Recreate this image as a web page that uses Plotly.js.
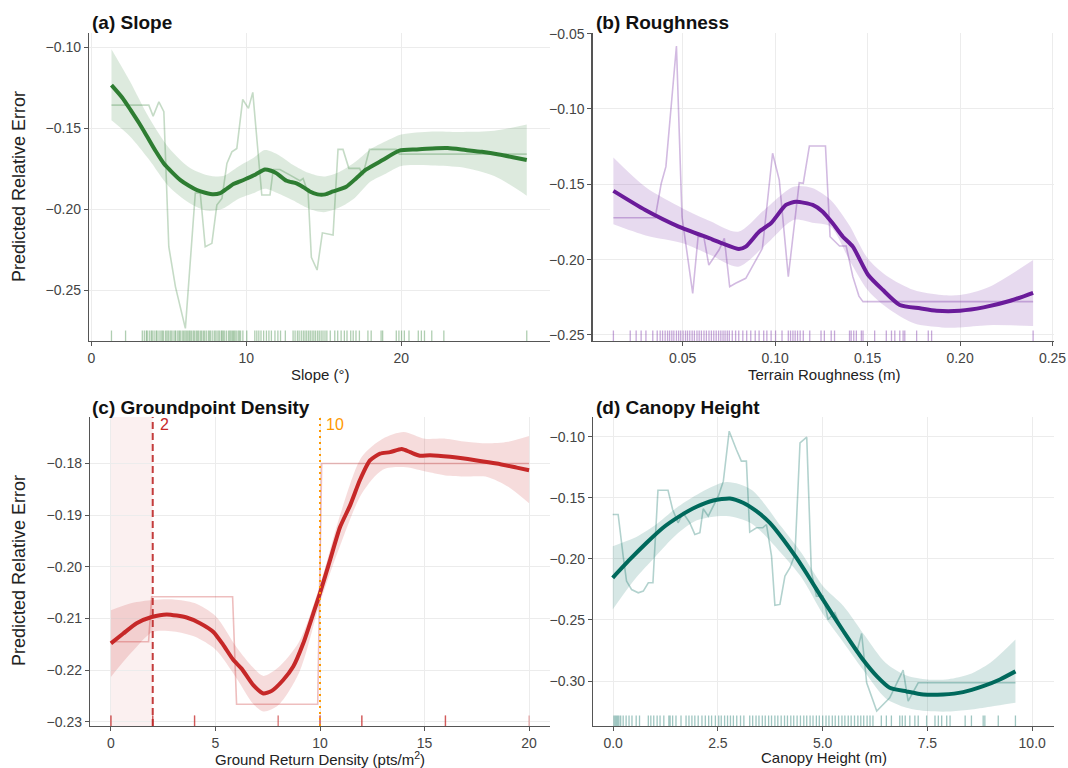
<!DOCTYPE html>
<html>
<head>
<meta charset="utf-8">
<script src="https://cdn.plot.ly/plotly-3.0.1.min.js"></script>
<style>
  html, body { margin: 0; padding: 0; background: #ffffff; }
  #chart { width: 1068px; height: 768px; }
</style>
</head>
<body>
<div id="chart"></div>
<script>
// ---------- (a) Slope ----------
const slopeX = [1.3, 2.0, 2.54, 3.1, 3.61, 4.15, 4.68, 5.2, 5.75, 6.3, 6.82, 7.35, 7.89, 8.32, 8.75, 9.17, 9.6, 10.03, 10.6, 11.2, 11.6, 11.96, 12.6, 13.24, 13.7, 14.1, 14.6, 15.1, 15.6, 16.45, 17.1, 17.74, 18.8, 19.88, 21.0, 22.0, 23.0, 24.16, 25.2, 26.3, 27.2, 28.1];
const slopeY = [-0.1232, -0.131, -0.1387, -0.147, -0.1552, -0.164, -0.1717, -0.177, -0.182, -0.1855, -0.1882, -0.1898, -0.1908, -0.190, -0.1872, -0.1844, -0.1828, -0.181, -0.1785, -0.1754, -0.1762, -0.1778, -0.1824, -0.184, -0.1865, -0.189, -0.1908, -0.1908, -0.189, -0.1861, -0.1808, -0.1754, -0.1696, -0.1638, -0.163, -0.1624, -0.1622, -0.1634, -0.1645, -0.1661, -0.1678, -0.1696];
const slopeBandX = [1.3, 2.5, 3.7, 5.0, 6.3, 7.5, 8.5, 9.5, 10.5, 11.2, 12.0, 13.0, 14.0, 15.0, 16.0, 17.0, 18.0, 19.0, 20.0, 22.0, 24.0, 26.0, 28.1];
const slopeBandHi = [-0.101, -0.121, -0.143, -0.162, -0.174, -0.179, -0.1795, -0.1735, -0.168, -0.1634, -0.166, -0.1725, -0.1775, -0.1798, -0.177, -0.171, -0.163, -0.158, -0.1538, -0.1519, -0.1522, -0.1515, -0.1476];
const slopeBandLo = [-0.145, -0.155, -0.169, -0.186, -0.196, -0.201, -0.1995, -0.1935, -0.190, -0.1874, -0.190, -0.1945, -0.1995, -0.2018, -0.199, -0.193, -0.183, -0.178, -0.1732, -0.1729, -0.1742, -0.1795, -0.1916];
const slopeRawX = [1.3, 3.71, 3.99, 4.36, 4.68, 5.0, 5.43, 6.07, 6.71, 7.03, 7.35, 7.78, 8.1, 8.43, 8.75, 9.07, 9.39, 9.77, 10.14, 10.42, 11.0, 11.53, 11.74, 12.17, 13.03, 13.46, 13.67, 13.99, 14.2, 14.57, 14.91, 15.6, 15.92, 16.24, 16.62, 17.31, 17.52, 17.95, 19.67, 19.88, 28.1];
const slopeRawY = [-0.1356, -0.1356, -0.1424, -0.1336, -0.1397, -0.2232, -0.248, -0.2737, -0.190, -0.190, -0.2232, -0.2211, -0.1974, -0.1933, -0.1717, -0.1645, -0.1624, -0.1321, -0.1376, -0.1277, -0.1912, -0.1912, -0.1754, -0.1754, -0.180, -0.1824, -0.181, -0.190, -0.2298, -0.2376, -0.2146, -0.216, -0.163, -0.163, -0.1747, -0.1747, -0.1789, -0.163, -0.163, -0.1659, -0.1659];
const slopeRug = [1.30, 2.21, 3.29, 3.42, 3.55, 3.61, 3.74, 3.86, 3.93, 4.05, 4.18, 4.24, 4.37, 4.49, 4.58, 4.66, 4.79, 4.88, 4.97, 5.08, 5.16, 5.27, 5.39, 5.45, 5.58, 5.67, 5.74, 5.86, 5.95, 6.04, 6.13, 6.22, 6.31, 6.38, 6.47, 6.58, 6.66, 6.77, 6.85, 6.93, 7.04, 7.12, 7.23, 7.31, 7.42, 7.55, 7.63, 7.71, 7.84, 7.96, 8.05, 8.17, 8.26, 8.38, 8.44, 8.52, 8.61, 8.73, 8.86, 8.94, 9.02, 9.11, 9.18, 9.26, 9.35, 9.47, 9.55, 9.63, 9.78, 10.03, 10.55, 10.68, 10.81, 10.95, 11.12, 11.3, 11.46, 11.62, 11.85, 12.04, 12.21, 12.52, 13.02, 13.15, 13.3, 13.41, 13.55, 13.68, 13.79, 13.9, 14.02, 14.13, 14.25, 14.36, 14.47, 14.6, 14.71, 14.83, 14.95, 15.08, 15.2, 15.42, 15.71, 15.9, 16.12, 16.33, 16.5, 16.74, 16.9, 17.08, 17.3, 17.85, 18.06, 18.7, 18.8, 19.68, 19.85, 20.02, 20.2, 20.5, 21.1, 21.3, 21.5, 21.97, 22.75, 28.1];

// ---------- (b) Roughness ----------
const roughX = [0.0125, 0.0297, 0.0478, 0.0659, 0.0714, 0.0804, 0.0841, 0.0913, 0.0977, 0.1058, 0.1113, 0.1203, 0.1257, 0.1311, 0.1366, 0.142, 0.1502, 0.1583, 0.1674, 0.1783, 0.1873, 0.2, 0.2127, 0.2272, 0.2395];
const roughY = [-0.1544, -0.1671, -0.1781, -0.1865, -0.1892, -0.193, -0.1914, -0.1815, -0.1759, -0.1637, -0.1616, -0.1637, -0.1682, -0.1759, -0.1848, -0.1914, -0.2100, -0.2202, -0.2301, -0.2323, -0.2339, -0.2339, -0.2317, -0.2273, -0.222];
const roughBandX = [0.0125, 0.03, 0.05, 0.065, 0.08, 0.095, 0.11, 0.12, 0.13, 0.14, 0.15, 0.16, 0.175, 0.19, 0.2, 0.215, 0.2395];
const roughBandHi = [-0.1323, -0.152, -0.166, -0.1745, -0.1815, -0.166, -0.1516, -0.1525, -0.1604, -0.177, -0.1991, -0.2105, -0.2202, -0.2235, -0.2235, -0.2185, -0.2003];
const roughBandLo = [-0.1766, -0.184, -0.1892, -0.197, -0.2047, -0.190, -0.1737, -0.1755, -0.1781, -0.200, -0.2202, -0.2315, -0.2423, -0.245, -0.245, -0.2435, -0.2441];
const roughRawX = [0.0125, 0.0351, 0.0384, 0.0409, 0.0466, 0.0496, 0.0554, 0.0583, 0.0614, 0.0641, 0.0696, 0.0725, 0.0754, 0.0786, 0.0841, 0.0931, 0.0986, 0.1022, 0.1071, 0.113, 0.1152, 0.1185, 0.1272, 0.1297, 0.1348, 0.1384, 0.142, 0.1453, 0.1475, 0.2395];
const roughRawY = [-0.1722, -0.1722, -0.1493, -0.1383, -0.0582, -0.1715, -0.2224, -0.1848, -0.1848, -0.2036, -0.1936, -0.1859, -0.218, -0.2157, -0.2124, -0.1925, -0.1294, -0.1471, -0.2113, -0.1489, -0.1493, -0.1246, -0.1246, -0.1848, -0.191, -0.191, -0.2113, -0.2242, -0.2279, -0.2279];
const roughRug = [0.0125, 0.0216, 0.0248, 0.0275, 0.0301, 0.0338, 0.0362, 0.0378, 0.0391, 0.0405, 0.0418, 0.0429, 0.0441, 0.0452, 0.0466, 0.0478, 0.0489, 0.0502, 0.0515, 0.0526, 0.0538, 0.0551, 0.0563, 0.0577, 0.0589, 0.0601, 0.0615, 0.0628, 0.0642, 0.0655, 0.0668, 0.0681, 0.0694, 0.0706, 0.0718, 0.0729, 0.0741, 0.0752, 0.0768, 0.0786, 0.0803, 0.0825, 0.0846, 0.0868, 0.0892, 0.0913, 0.0938, 0.0955, 0.0978, 0.1002, 0.1037, 0.1071, 0.1083, 0.1096, 0.1108, 0.1121, 0.1135, 0.1152, 0.1187, 0.1248, 0.1266, 0.1303, 0.1321, 0.1402, 0.1411, 0.1425, 0.1439, 0.1466, 0.1475, 0.1538, 0.1601, 0.1629, 0.1647, 0.1674, 0.1692, 0.1701, 0.1765, 0.1828, 0.1846, 0.2395];

// ---------- (c) Groundpoint Density ----------
const densX = [0, 0.59, 1.23, 1.95, 2.67, 3.62, 4.26, 4.9, 5.37, 5.85, 6.25, 6.81, 7.29, 7.69, 8.24, 8.72, 9.2, 9.68, 10.0, 10.48, 10.96, 11.44, 11.91, 12.39, 12.87, 13.35, 13.91, 14.31, 14.78, 15.26, 16.22, 17.5, 18.45, 19.41, 20.0];
const densY = [-0.2148, -0.2129, -0.2109, -0.2097, -0.2092, -0.2098, -0.2109, -0.2126, -0.2151, -0.218, -0.2197, -0.2229, -0.2245, -0.224, -0.2219, -0.2193, -0.2148, -0.209, -0.2051, -0.1987, -0.1923, -0.1881, -0.1832, -0.1794, -0.1781, -0.1778, -0.1772, -0.1778, -0.1785, -0.1784, -0.1787, -0.1794, -0.18, -0.1808, -0.1813];
const densBandX = [0, 1, 2, 3, 4, 5, 6, 6.8, 7.3, 8, 9, 10, 11, 12, 13, 14, 15, 16, 17, 18, 19, 20];
const densBandHi = [-0.2084, -0.207, -0.2064, -0.2063, -0.207, -0.2095, -0.2155, -0.2195, -0.2211, -0.2195, -0.2145, -0.2035, -0.1895, -0.1787, -0.1752, -0.1739, -0.1752, -0.1752, -0.1758, -0.1761, -0.1758, -0.1747];
const densBandLo = [-0.2213, -0.2165, -0.2126, -0.2125, -0.2135, -0.2160, -0.2215, -0.2265, -0.2280, -0.2268, -0.2205, -0.2070, -0.1955, -0.1858, -0.1812, -0.1807, -0.1815, -0.1823, -0.1825, -0.1826, -0.1845, -0.1877];
const densRawX = [0, 1.8, 1.95, 5.82, 6.01, 9.89, 10.08, 20];
const densRawY = [-0.2145, -0.2145, -0.2058, -0.2058, -0.2266, -0.2266, -0.18, -0.18];
const densRug = [0, 0, 0, 2, 2, 2, 4, 4, 4, 8, 8, 10, 10, 10, 12, 12, 12, 16, 16, 16, 20];
const densLow = 2;
const densHigh = 10;

// ---------- (d) Canopy Height ----------
const canX = [-0.01, 0.4, 0.8, 1.19, 1.59, 1.99, 2.39, 2.79, 3.1, 3.42, 3.74, 4.06, 4.38, 4.7, 5.0, 5.33, 5.65, 5.95, 6.29, 6.6, 7.0, 7.4, 7.88, 8.35, 8.83, 9.23, 9.6];
const canY = [-0.2155, -0.2005, -0.1868, -0.1745, -0.165, -0.1574, -0.1522, -0.1506, -0.1541, -0.161, -0.1705, -0.1841, -0.1995, -0.2165, -0.2330, -0.2505, -0.2672, -0.2820, -0.2960, -0.3055, -0.3085, -0.311, -0.311, -0.3091, -0.3042, -0.2987, -0.2921];
const canBandX = [-0.01, 0.5, 1.0, 1.5, 2.0, 2.7, 3.3, 4.0, 4.5, 5.0, 5.5, 6.0, 6.5, 7.0, 7.5, 8.0, 8.5, 9.0, 9.6];
const canBandHi = [-0.1896, -0.183, -0.1725, -0.1585, -0.1475, -0.1372, -0.1435, -0.1732, -0.1955, -0.222, -0.2387, -0.2625, -0.285, -0.2955, -0.2987, -0.2985, -0.2945, -0.285, -0.266];
const canBandLo = [-0.2414, -0.2175, -0.1985, -0.1805, -0.1685, -0.165, -0.171, -0.195, -0.2155, -0.245, -0.2687, -0.2925, -0.314, -0.3218, -0.3246, -0.325, -0.3235, -0.321, -0.3178];
const canRawX = [-0.01, 0.12, 0.24, 0.32, 0.44, 0.6, 0.72, 0.84, 0.95, 1.07, 1.31, 1.42, 1.55, 1.67, 1.83, 1.95, 2.07, 2.15, 2.27, 2.39, 2.51, 2.63, 2.77, 2.94, 3.06, 3.18, 3.26, 3.42, 3.57, 3.66, 3.78, 3.86, 3.98, 4.1, 4.22, 4.34, 4.46, 4.62, 4.73, 4.85, 5.01, 5.13, 5.29, 5.49, 5.81, 5.93, 6.05, 6.29, 6.6, 6.92, 7.04, 7.28, 9.6];
const canRawY = [-0.1637, -0.1637, -0.1978, -0.2182, -0.2251, -0.2278, -0.2264, -0.2196, -0.2196, -0.1438, -0.1438, -0.1596, -0.1705, -0.1623, -0.1705, -0.18, -0.1786, -0.159, -0.165, -0.1569, -0.1487, -0.1364, -0.0955, -0.1105, -0.12, -0.12, -0.1781, -0.1746, -0.1746, -0.1719, -0.1978, -0.2381, -0.2373, -0.2141, -0.2073, -0.1964, -0.105, -0.1004, -0.2103, -0.2305, -0.2305, -0.2496, -0.2441, -0.2605, -0.2768, -0.2611, -0.3014, -0.3246, -0.3137, -0.2911, -0.3164, -0.3014, -0.3014];
const canRug = [0.02, 0.05, 0.08, 0.11, 0.14, 0.18, 0.24, 0.31, 0.38, 0.45, 0.55, 0.63, 0.84, 0.9, 0.97, 1.05, 1.12, 1.21, 1.33, 1.36, 1.42, 1.5, 1.62, 1.74, 1.81, 1.88, 1.95, 2.03, 2.12, 2.2, 2.28, 2.35, 2.44, 2.52, 2.58, 2.66, 2.73, 2.8, 2.87, 2.95, 3.04, 3.12, 3.26, 3.33, 3.41, 3.48, 3.56, 3.63, 3.71, 3.78, 3.86, 3.93, 4.01, 4.09, 4.16, 4.24, 4.31, 4.39, 4.47, 4.55, 4.62, 4.7, 4.77, 4.85, 4.92, 5.0, 5.08, 5.15, 5.23, 5.3, 5.38, 5.46, 5.53, 5.61, 5.68, 5.76, 5.84, 5.91, 5.98, 6.06, 6.13, 6.2, 6.4, 6.52, 6.64, 6.84, 6.9, 6.97, 7.08, 7.2, 7.28, 7.48, 7.68, 7.76, 7.84, 7.96, 8.04, 8.4, 8.55, 8.83, 8.87, 9.19, 9.6];

// ---------- drawing ----------
const FONT = 'Liberation Sans, Arial, Helvetica, sans-serif';
const W = 1068, H = 768;
const px = v => v / W;
const py = v => 1 - v / H;

function rgba(hex, a) {
  const n = parseInt(hex.slice(1), 16);
  return `rgba(${(n >> 16) & 255},${(n >> 8) & 255},${n & 255},${a})`;
}

const panels = [
  { id: '',  color: '#2e7d32', x: slopeX, y: slopeY, bx: slopeBandX, bhi: slopeBandHi, blo: slopeBandLo, rx: slopeRawX, ry: slopeRawY, rug: slopeRug, rugAlpha: 0.38, rawAlpha: 0.28 },
  { id: '2', color: '#6a1b9a', x: roughX, y: roughY, bx: roughBandX, bhi: roughBandHi, blo: roughBandLo, rx: roughRawX, ry: roughRawY, rug: roughRug, rugAlpha: 0.38, rawAlpha: 0.3 },
  { id: '3', color: '#c62828', x: densX, y: densY, bx: densBandX, bhi: densBandHi, blo: densBandLo, rx: densRawX, ry: densRawY, rug: densRug, rugAlpha: 0.38, rawAlpha: 0.3 },
  { id: '4', color: '#00695c', x: canX, y: canY, bx: canBandX, bhi: canBandHi, blo: canBandLo, rx: canRawX, ry: canRawY, rug: canRug, rugAlpha: 0.38, rawAlpha: 0.3 }
];

const traces = [];
const shapes = [];

// low-density region shading
shapes.push({ type: 'rect', xref: 'x3', yref: 'y3 domain', x0: 0, x1: densLow, y0: 0, y1: 1,
  fillcolor: 'rgba(198,40,40,0.07)', line: { width: 0 }, layer: 'below' });

panels.forEach(p => {
  const xa = 'x' + p.id, ya = 'y' + p.id;
  traces.push({ x: p.bx, y: p.blo, xaxis: xa, yaxis: ya, mode: 'lines',
    line: { width: 0, shape: 'spline', smoothing: 0.8 }, hoverinfo: 'skip', showlegend: false });
  traces.push({ x: p.bx, y: p.bhi, xaxis: xa, yaxis: ya, mode: 'lines', fill: 'tonexty',
    fillcolor: rgba(p.color, 0.16), line: { width: 0, shape: 'spline', smoothing: 0.8 },
    hoverinfo: 'skip', showlegend: false });
  traces.push({ x: p.rx, y: p.ry, xaxis: xa, yaxis: ya, mode: 'lines',
    line: { width: 1.6, color: rgba(p.color, p.rawAlpha) }, hoverinfo: 'skip', showlegend: false });
  traces.push({ x: p.x, y: p.y, xaxis: xa, yaxis: ya, mode: 'lines',
    line: { width: 4, color: p.color, shape: 'spline', smoothing: 0.6 }, showlegend: false });
  p.rug.forEach(v => {
    shapes.push({ type: 'line', xref: xa, yref: ya + ' domain', x0: v, x1: v, y0: 0, y1: 0.034,
      line: { color: rgba(p.color, p.rugAlpha), width: 1.3 }, layer: 'above' });
  });
});

shapes.push({ type: 'line', xref: 'x3', yref: 'y3 domain', x0: densLow, x1: densLow, y0: 0, y1: 1,
  line: { color: 'rgba(190,40,40,0.9)', width: 2, dash: '7px,4px' }, layer: 'above' });
shapes.push({ type: 'line', xref: 'x3', yref: 'y3 domain', x0: densHigh, x1: densHigh, y0: 0, y1: 1,
  line: { color: '#ff9800', width: 2, dash: '2px,4px' }, layer: 'above' });

function axisBase(extra) {
  return Object.assign({
    showline: true, linecolor: '#555555', linewidth: 1.2, mirror: false,
    ticks: 'outside', ticklen: 4, tickwidth: 1, tickcolor: '#555555',
    showgrid: true, gridcolor: '#ececec', gridwidth: 1, zeroline: false,
    tickfont: { family: FONT, size: 14, color: '#444444' }, fixedrange: true
  }, extra);
}

const topRow = [py(341), py(33)];
const botRow = [py(726), py(417)];

const layout = {
  width: W, height: H,
  margin: { l: 0, r: 0, t: 0, b: 0 },
  paper_bgcolor: '#ffffff', plot_bgcolor: '#ffffff',
  font: { family: FONT },
  showlegend: false,
  xaxis:  axisBase({ domain: [px(89), px(550)], anchor: 'y', range: [-0.15, 29.6], tickvals: [0, 10, 20] }),
  yaxis:  axisBase({ domain: topRow, anchor: 'x', range: [-0.2815, -0.091], tickvals: [-0.25, -0.20, -0.15, -0.10], tickformat: '.2f' }),
  xaxis2: axisBase({ domain: [px(592.5), px(1054)], anchor: 'y2', range: [0.0012, 0.2508], tickvals: [0.05, 0.10, 0.15, 0.20, 0.25], tickformat: '.2f' }),
  yaxis2: axisBase({ domain: topRow, anchor: 'x2', range: [-0.254, -0.0496], tickvals: [-0.25, -0.20, -0.15, -0.10, -0.05], tickformat: '.2f' }),
  xaxis3: axisBase({ domain: [px(90), px(550)], anchor: 'y3', range: [-1, 21], tickvals: [0, 5, 10, 15, 20] }),
  yaxis3: axisBase({ domain: botRow, anchor: 'x3', range: [-0.2308, -0.171], tickvals: [-0.23, -0.22, -0.21, -0.20, -0.19, -0.18], tickformat: '.2f' }),
  xaxis4: axisBase({ domain: [px(593), px(1054)], anchor: 'y4', range: [-0.48, 10.52], tickvals: [0, 2.5, 5, 7.5, 10], tickformat: '.1f' }),
  yaxis4: axisBase({ domain: botRow, anchor: 'x4', range: [-0.3368, -0.0839], tickvals: [-0.30, -0.25, -0.20, -0.15, -0.10], tickformat: '.2f' }),
  shapes: shapes,
  annotations: [
    { text: '<b>(a) Slope</b>', x: px(90), y: py(22), xanchor: 'left', yanchor: 'middle', font: { size: 19, color: '#111111' } },
    { text: '<b>(b) Roughness</b>', x: px(594), y: py(22), xanchor: 'left', yanchor: 'middle', font: { size: 19, color: '#111111' } },
    { text: '<b>(c) Groundpoint Density</b>', x: px(90), y: py(407), xanchor: 'left', yanchor: 'middle', font: { size: 19, color: '#111111' } },
    { text: '<b>(d) Canopy Height</b>', x: px(594), y: py(407), xanchor: 'left', yanchor: 'middle', font: { size: 19, color: '#111111' } },
    { text: 'Predicted Relative Error', x: px(19), y: py(187), textangle: -90, xanchor: 'center', yanchor: 'middle', font: { size: 18, color: '#222222' } },
    { text: 'Predicted Relative Error', x: px(19), y: py(571), textangle: -90, xanchor: 'center', yanchor: 'middle', font: { size: 18, color: '#222222' } },
    { text: 'Slope (°)', x: px(320), y: py(374), xanchor: 'center', yanchor: 'middle', font: { size: 15, color: '#222222' } },
    { text: 'Terrain Roughness (m)', x: px(824), y: py(374), xanchor: 'center', yanchor: 'middle', font: { size: 15, color: '#222222' } },
    { text: 'Ground Return Density (pts/m<sup>2</sup>)', x: px(320), y: py(758), xanchor: 'center', yanchor: 'middle', font: { size: 15, color: '#222222' } },
    { text: 'Canopy Height (m)', x: px(824), y: py(757), xanchor: 'center', yanchor: 'middle', font: { size: 15, color: '#222222' } },
    { text: String(densLow), xref: 'x3', yref: 'y3 domain', x: densLow, y: 0.975, xanchor: 'left', yanchor: 'middle', xshift: 5, font: { size: 16, color: '#c62828' } },
    { text: String(densHigh), xref: 'x3', yref: 'y3 domain', x: densHigh, y: 0.975, xanchor: 'left', yanchor: 'middle', xshift: 4, font: { size: 16, color: '#ff9800' } }
  ].map(a => Object.assign({ xref: 'paper', yref: 'paper', showarrow: false }, a))
};

Plotly.newPlot('chart', traces, layout, { staticPlot: true, displayModeBar: false });
</script>
</body>
</html>
